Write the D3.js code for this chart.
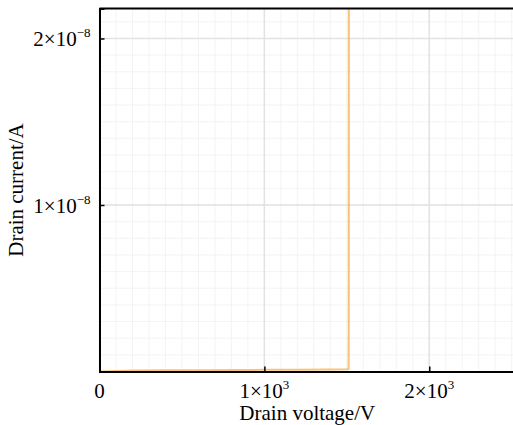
<!DOCTYPE html>
<html>
<head>
<meta charset="utf-8">
<script src="https://cdn.jsdelivr.net/npm/d3@7/dist/d3.min.js"></script>
<style>
  body { margin: 0; background: #fff; }
  svg { display: block; font-family: "Liberation Serif", "Times New Roman", serif; }
</style>
</head>
<body>
<div class="chart"></div>
<script>
// drain sweep: leakage stays near zero, then breakdown near 1.5 kV
var voltage = [0, 200, 400, 600, 800, 1000, 1200, 1400, 1500, 1511, 1512, 1512.3];
var current = [0, 6e-11, 7e-11, 8e-11, 9e-11, 1e-10, 1.1e-10, 1.2e-10, 1.3e-10, 1.5e-10, 5e-9, 3e-8];

var xTicks = [0, 1000, 2000];
var xTickLabels = ["0", "1×10|3", "2×10|3"];
var yTicks = [1e-8, 2e-8];
var yTickLabels = ["1×10|−8", "2×10|−8"];

var svgWidth = 513, svgHeight = 425;
var margin = { top: 8.5, right: -2, bottom: 53.5, left: 99.5 };
var width = svgWidth - margin.left - margin.right;
var height = svgHeight - margin.top - margin.bottom;

var svg = d3.select(".chart").append("svg")
  .attr("width", svgWidth)
  .attr("height", svgHeight);

var x = d3.scaleLinear().domain([0, 2520]).range([0, width]);
var y = d3.scaleLinear().domain([0, 2.18e-8]).range([height, 0]);

var chartGroup = svg.append("g")
  .attr("transform", `translate(${margin.left}, ${margin.top})`);

svg.append("defs").append("clipPath").attr("id", "plotClip")
  .append("rect").attr("width", width).attr("height", height);

// minor grid
var xMinor = d3.range(0, 2521, 100);
var yMinor = d3.range(0, 2.18e-8, 1e-9);
chartGroup.append("g").selectAll("line").data(xMinor).enter().append("line")
  .attr("x1", d => x(d)).attr("x2", d => x(d))
  .attr("y1", 0).attr("y2", height)
  .attr("stroke", "#ececec").attr("stroke-width", 1).attr("opacity", 0.55);
chartGroup.append("g").selectAll("line").data(yMinor).enter().append("line")
  .attr("y1", d => y(d)).attr("y2", d => y(d))
  .attr("x1", 0).attr("x2", width)
  .attr("stroke", "#ececec").attr("stroke-width", 1).attr("opacity", 0.55);

// major grid
chartGroup.append("g").selectAll("line").data(xTicks).enter().append("line")
  .attr("x1", d => x(d)).attr("x2", d => x(d))
  .attr("y1", 0).attr("y2", height)
  .attr("stroke", "#e2e2e2").attr("stroke-width", 1.5);
chartGroup.append("g").selectAll("line").data(yTicks).enter().append("line")
  .attr("y1", d => y(d)).attr("y2", d => y(d))
  .attr("x1", 0).attr("x2", width)
  .attr("stroke", "#e2e2e2").attr("stroke-width", 1.5);

// curve
var line = d3.line().x((d, i) => x(voltage[i])).y(d => y(d));
chartGroup.append("path")
  .datum(current)
  .attr("clip-path", "url(#plotClip)")
  .attr("d", line)
  .attr("fill", "none")
  .attr("stroke", "#f4b04a")
  .attr("stroke-opacity", 0.75)
  .attr("stroke-width", 2);

// axes
var xAxis = d3.axisBottom(x).tickValues(xTicks).tickSize(-5).tickFormat("");
var yAxis = d3.axisLeft(y).tickValues(yTicks).tickSize(-5).tickFormat("");

var gx = chartGroup.append("g")
  .attr("transform", `translate(0, ${height})`)
  .call(xAxis);
var gy = chartGroup.append("g").call(yAxis);
[gx, gy].forEach(function(g) {
  g.select(".domain").attr("stroke", "#000").attr("stroke-width", 2);
  g.selectAll(".tick line").attr("stroke", "#000").attr("stroke-width", 1.5);
});

// top border
chartGroup.append("line")
  .attr("x1", 0).attr("x2", width).attr("y1", 0).attr("y2", 0)
  .attr("stroke", "#000").attr("stroke-width", 2);

function powerLabel(sel, label) {
  var parts = label.split("|");
  sel.append("tspan").text(parts[0]);
  if (parts[1]) {
    sel.append("tspan").attr("font-size", 13).attr("dy", -9).text(parts[1]);
  }
}

// tick labels
chartGroup.selectAll(".xlab").data(xTicks).enter().append("text")
  .attr("x", d => x(d))
  .attr("y", height + 26)
  .attr("text-anchor", "middle")
  .attr("font-size", 21)
  .each(function(d, i) { powerLabel(d3.select(this), xTickLabels[i]); });

chartGroup.selectAll(".ylab").data(yTicks).enter().append("text")
  .attr("x", -9)
  .attr("y", d => y(d) + 8)
  .attr("text-anchor", "end")
  .attr("font-size", 21)
  .each(function(d, i) { powerLabel(d3.select(this), yTickLabels[i]); });

// axis titles
svg.append("text")
  .attr("x", margin.left + width / 2)
  .attr("y", 420)
  .attr("text-anchor", "middle")
  .attr("font-size", 21)
  .text("Drain voltage/V");

svg.append("text")
  .attr("transform", `translate(23, ${margin.top + height / 2}) rotate(-90)`)
  .attr("text-anchor", "middle")
  .attr("font-size", 21)
  .text("Drain current/A");
</script>
</body>
</html>
